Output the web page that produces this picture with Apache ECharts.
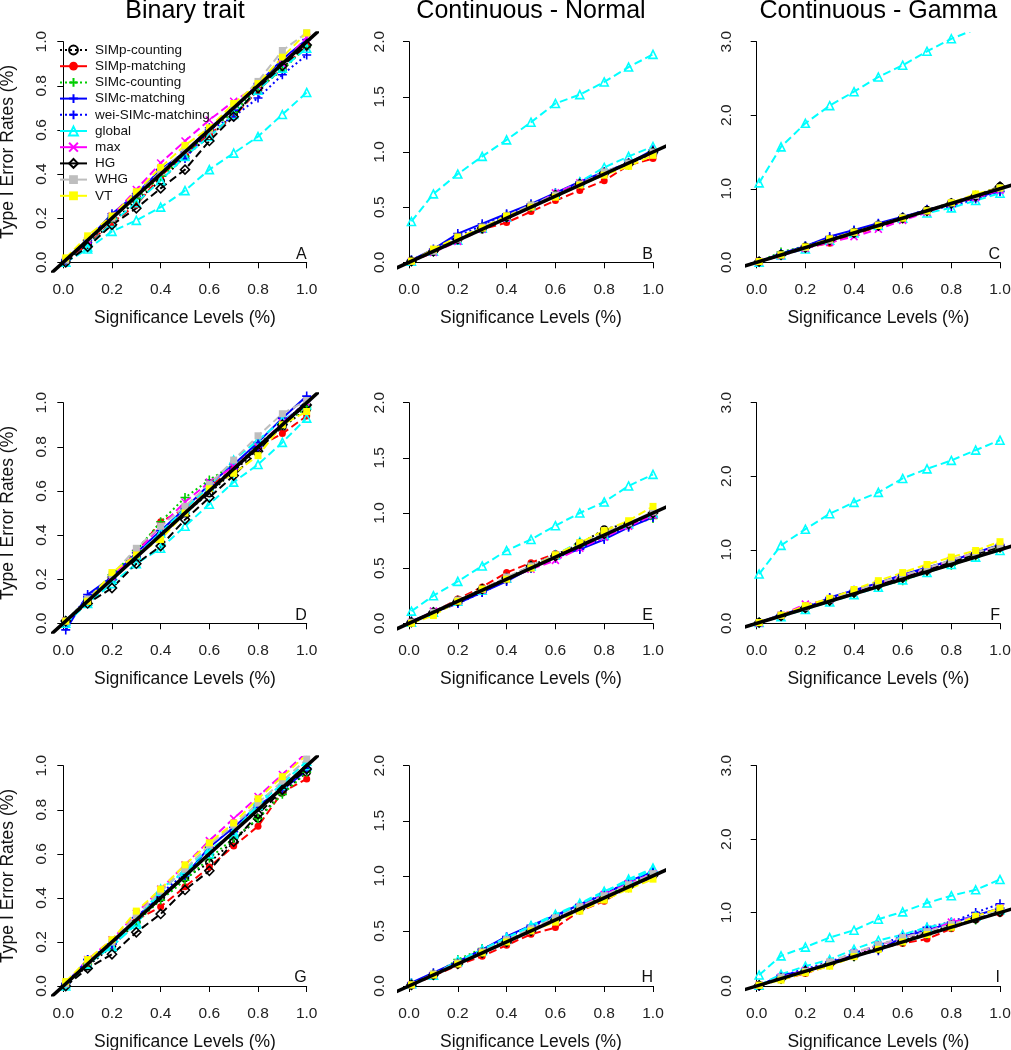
<!DOCTYPE html>
<html><head><meta charset="utf-8">
<script src="https://cdn.jsdelivr.net/npm/echarts@6/dist/echarts.min.js"></script>
<style>html,body{margin:0;padding:0;background:#fff}#c{width:1011px;height:1050px}</style>
</head><body><div id="c"></div><script>
// ---------------- data ----------------
const sigLevels = [0.01, 0.1, 0.2, 0.3, 0.4, 0.5, 0.6, 0.7, 0.8, 0.9, 1.0];
const colTitles = ['Binary trait', 'Continuous - Normal', 'Continuous - Gamma'];
const panelLetters = ['A', 'B', 'C', 'D', 'E', 'F', 'G', 'H', 'I'];
const xTicks = [0, 0.2, 0.4, 0.6, 0.8, 1.0];
const yTicksBinary = [0, 0.2, 0.4, 0.6, 0.8, 1.0];
const yTicksNormal = [0, 0.5, 1.0, 1.5, 2.0];
const yTicksGamma = [0, 1.0, 2.0, 3.0];
const refLineX = [-1, 5]; // y = x reference line

// rows: panels A..I, columns: significance levels
const simpCounting = [
  [0.01,0.08,0.18,0.28,0.37,0.48,0.57,0.67,0.78,0.88,0.98],
  [0.01,0.10,0.20,0.30,0.40,0.50,0.60,0.70,0.80,0.90,0.98],
  [0.01,0.11,0.21,0.31,0.41,0.51,0.61,0.71,0.81,0.91,1.03],
  [0.01,0.10,0.20,0.30,0.40,0.50,0.59,0.69,0.79,0.89,0.97],
  [0.01,0.10,0.21,0.31,0.41,0.52,0.62,0.72,0.85,0.91,1.00],
  [0.01,0.10,0.21,0.32,0.42,0.53,0.63,0.73,0.83,0.93,1.03],
  [0.01,0.09,0.18,0.29,0.40,0.49,0.56,0.66,0.76,0.88,0.97],
  [0.01,0.10,0.21,0.31,0.41,0.51,0.61,0.71,0.81,0.91,1.01],
  [0.01,0.10,0.21,0.31,0.42,0.52,0.62,0.73,0.82,0.91,1.00]
];
const simpMatching = [
  [0.01,0.08,0.18,0.26,0.39,0.49,0.58,0.66,0.78,0.88,0.98],
  [0.01,0.09,0.20,0.30,0.36,0.46,0.56,0.65,0.74,0.88,0.94],
  [0.01,0.10,0.20,0.26,0.38,0.48,0.58,0.70,0.79,0.87,0.98],
  [0.01,0.10,0.21,0.32,0.46,0.52,0.62,0.70,0.80,0.86,0.94],
  [0.01,0.10,0.22,0.33,0.46,0.55,0.63,0.70,0.80,0.90,1.00],
  [0.01,0.11,0.23,0.33,0.44,0.53,0.64,0.73,0.84,0.95,1.05],
  [0.01,0.10,0.19,0.30,0.36,0.45,0.54,0.635,0.725,0.88,0.94],
  [0.01,0.09,0.19,0.27,0.37,0.47,0.53,0.68,0.77,0.90,0.99],
  [0.01,0.09,0.17,0.28,0.40,0.51,0.58,0.64,0.78,0.91,0.99]
];
const simcCounting = [
  [0.01,0.09,0.20,0.29,0.39,0.48,0.60,0.68,0.79,0.87,0.98],
  [0.01,0.10,0.21,0.31,0.41,0.50,0.61,0.71,0.80,0.90,0.99],
  [0.01,0.14,0.22,0.31,0.40,0.50,0.60,0.70,0.80,0.90,1.00],
  [0.01,0.11,0.22,0.33,0.46,0.57,0.65,0.72,0.81,0.90,0.98],
  [0.01,0.10,0.20,0.30,0.40,0.50,0.60,0.70,0.80,0.89,0.95],
  [0.01,0.10,0.20,0.30,0.40,0.50,0.58,0.70,0.79,0.90,1.02],
  [0.01,0.10,0.19,0.29,0.39,0.48,0.58,0.67,0.76,0.87,0.97],
  [0.01,0.10,0.24,0.34,0.42,0.51,0.60,0.71,0.81,0.92,1.02],
  [0.01,0.11,0.20,0.30,0.40,0.50,0.60,0.70,0.80,0.90,1.00]
];
const simcMatching = [
  [0.01,0.10,0.22,0.31,0.42,0.50,0.61,0.69,0.81,0.92,1.01],
  [0.02,0.12,0.26,0.35,0.44,0.53,0.63,0.73,0.82,0.90,1.02],
  [0.01,0.12,0.22,0.35,0.44,0.53,0.62,0.71,0.80,0.88,0.97],
  [-0.03,0.13,0.21,0.32,0.42,0.52,0.63,0.72,0.82,0.93,1.03],
  [0.02,0.10,0.18,0.28,0.38,0.50,0.60,0.67,0.76,0.87,0.96],
  [0.01,0.12,0.21,0.35,0.45,0.55,0.66,0.76,0.85,0.96,1.07],
  [0.01,0.12,0.19,0.31,0.41,0.50,0.63,0.72,0.82,0.89,0.98],
  [0.03,0.12,0.22,0.33,0.45,0.55,0.64,0.74,0.83,0.95,1.04],
  [0.00,0.15,0.20,0.32,0.42,0.48,0.67,0.76,0.86,0.96,1.06]
];
const weiSimcMatching = [
  [0.01,0.09,0.21,0.30,0.42,0.47,0.60,0.66,0.745,0.85,0.94],
  [0.02,0.11,0.24,0.33,0.43,0.52,0.62,0.72,0.80,0.90,0.99],
  [0.01,0.11,0.22,0.33,0.43,0.52,0.61,0.72,0.76,0.86,0.96],
  [0.00,0.12,0.20,0.30,0.40,0.50,0.61,0.70,0.80,0.90,1.01],
  [0.01,0.10,0.18,0.28,0.39,0.51,0.59,0.68,0.77,0.88,0.97],
  [0.01,0.11,0.22,0.34,0.44,0.55,0.64,0.75,0.86,0.96,1.06],
  [0.01,0.12,0.19,0.31,0.42,0.51,0.60,0.70,0.81,0.90,0.99],
  [0.02,0.11,0.22,0.33,0.44,0.54,0.63,0.74,0.84,0.94,1.03],
  [0.00,0.14,0.23,0.33,0.45,0.55,0.68,0.80,0.87,1.00,1.12]
];
const globalTest = [
  [0.00,0.06,0.14,0.19,0.25,0.325,0.42,0.495,0.57,0.67,0.77],
  [0.37,0.62,0.80,0.96,1.11,1.27,1.44,1.52,1.635,1.77,1.885],
  [1.08,1.57,1.89,2.13,2.32,2.52,2.68,2.87,3.04,3.17,3.30],
  [0.00,0.09,0.18,0.27,0.34,0.44,0.54,0.64,0.72,0.82,0.93],
  [0.11,0.25,0.38,0.52,0.66,0.76,0.885,1.00,1.10,1.245,1.35],
  [0.67,1.06,1.28,1.49,1.645,1.78,1.97,2.10,2.215,2.355,2.49],
  [0.00,0.10,0.18,0.29,0.44,0.52,0.60,0.70,0.82,0.92,1.02],
  [0.02,0.10,0.23,0.33,0.44,0.54,0.64,0.74,0.85,0.97,1.07],
  [0.15,0.41,0.53,0.66,0.76,0.91,1.01,1.13,1.23,1.31,1.45]
];
const globalSecond = [
  [0.00,0.07,0.18,0.27,0.37,0.48,0.57,0.67,0.78,0.88,0.97],
  [0.01,0.10,0.20,0.31,0.41,0.51,0.62,0.73,0.86,0.96,1.05],
  [0.00,0.10,0.18,0.30,0.40,0.50,0.60,0.67,0.74,0.84,0.94],
  [0.01,0.10,0.20,0.31,0.41,0.52,0.62,0.74,0.83,0.92,0.99],
  [0.01,0.10,0.20,0.30,0.41,0.52,0.62,0.74,0.80,0.90,1.00],
  [0.01,0.09,0.19,0.29,0.39,0.49,0.59,0.69,0.80,0.90,0.99],
  [0.01,0.10,0.18,0.28,0.43,0.53,0.62,0.69,0.84,0.91,1.00],
  [0.02,0.10,0.22,0.32,0.43,0.55,0.65,0.75,0.86,0.95,1.06],
  [0.01,0.16,0.27,0.36,0.50,0.62,0.70,0.80,0.86,0.95,1.04]
];
const maxTest = [
  [0.01,0.10,0.21,0.33,0.45,0.55,0.645,0.73,0.80,0.90,1.02],
  [0.01,0.09,0.19,0.30,0.40,0.50,0.63,0.72,0.80,0.90,0.99],
  [0.01,0.09,0.19,0.27,0.35,0.45,0.57,0.68,0.80,0.88,0.98],
  [0.01,0.10,0.21,0.32,0.44,0.55,0.64,0.71,0.80,0.91,1.00],
  [0.01,0.11,0.20,0.30,0.40,0.49,0.57,0.68,0.78,0.88,0.98],
  [0.00,0.11,0.26,0.32,0.43,0.54,0.65,0.73,0.86,0.96,1.04],
  [0.01,0.12,0.21,0.33,0.44,0.55,0.66,0.76,0.86,0.96,1.06],
  [0.01,0.10,0.20,0.31,0.41,0.50,0.60,0.72,0.83,0.93,1.02],
  [0.01,0.12,0.21,0.31,0.45,0.55,0.66,0.74,0.87,0.94,1.06]
];
const hgTest = [
  [0.00,0.07,0.17,0.245,0.335,0.42,0.55,0.66,0.79,0.89,0.985],
  [0.01,0.10,0.21,0.31,0.41,0.51,0.61,0.71,0.81,0.89,1.00],
  [0.01,0.10,0.20,0.30,0.40,0.50,0.60,0.70,0.80,0.90,1.03],
  [0.01,0.09,0.16,0.27,0.35,0.47,0.57,0.67,0.78,0.90,0.99],
  [0.01,0.10,0.20,0.31,0.41,0.52,0.61,0.72,0.81,0.90,1.00],
  [0.01,0.10,0.21,0.31,0.42,0.52,0.62,0.72,0.83,0.94,1.04],
  [0.00,0.08,0.144,0.244,0.327,0.436,0.523,0.655,0.78,0.89,0.985],
  [0.01,0.10,0.20,0.30,0.40,0.50,0.60,0.70,0.80,0.90,1.00],
  [0.01,0.10,0.20,0.30,0.41,0.51,0.61,0.72,0.82,0.92,1.01]
];
const whgTest = [
  [0.01,0.11,0.20,0.31,0.41,0.51,0.60,0.71,0.82,0.96,1.04],
  [0.01,0.10,0.21,0.32,0.42,0.52,0.61,0.71,0.82,0.90,1.00],
  [0.01,0.10,0.20,0.30,0.41,0.51,0.61,0.70,0.81,0.91,1.01],
  [0.01,0.11,0.22,0.34,0.44,0.53,0.63,0.74,0.85,0.95,1.01],
  [0.01,0.10,0.21,0.31,0.42,0.52,0.62,0.73,0.82,0.91,1.01],
  [0.01,0.11,0.22,0.33,0.44,0.55,0.65,0.75,0.86,0.96,1.06],
  [0.01,0.11,0.20,0.32,0.43,0.53,0.64,0.73,0.83,0.93,1.03],
  [0.01,0.11,0.21,0.31,0.42,0.52,0.62,0.72,0.82,0.92,1.02],
  [0.01,0.12,0.20,0.33,0.45,0.56,0.66,0.74,0.84,0.94,1.04]
];
const vtTest = [
  [0.02,0.12,0.21,0.32,0.43,0.53,0.61,0.72,0.81,0.93,1.04],
  [0.01,0.12,0.23,0.31,0.42,0.50,0.59,0.70,0.79,0.87,0.97],
  [0.01,0.10,0.21,0.32,0.41,0.50,0.60,0.70,0.81,0.93,1.01],
  [0.01,0.10,0.23,0.31,0.38,0.50,0.61,0.68,0.76,0.90,0.96],
  [0.00,0.07,0.20,0.31,0.40,0.50,0.62,0.73,0.84,0.93,1.06],
  [0.01,0.11,0.24,0.34,0.46,0.58,0.69,0.80,0.90,0.99,1.11],
  [0.02,0.12,0.21,0.34,0.44,0.55,0.65,0.74,0.85,0.95,1.05],
  [0.01,0.10,0.20,0.30,0.40,0.50,0.58,0.68,0.78,0.88,0.97],
  [0.01,0.08,0.18,0.27,0.40,0.50,0.60,0.70,0.80,0.95,1.06]
];

// ---------------- styles ----------------
const P_PLUS = 'path://M-1,0L1,0M0,-1L0,1';
const P_X = 'path://M-1,-1L1,1M-1,1L1,-1';
const P_DIAMOND = 'path://M0,-1L1,0L0,1L-1,0Z';
const DOT = [2, 3], DASH = [8, 4];
const methods = [
  {name:'SIMp-counting', values:simpCounting, color:'#000000', symbol:'circle', open:true, size:7, dash:DOT, legendDash:DOT},
  {name:'SIMp-matching', values:simpMatching, color:'#ff0000', symbol:'circle', open:false, size:7, dash:DASH, legendDash:'solid'},
  {name:'SIMc-counting', values:simcCounting, color:'#00cd00', symbol:P_PLUS, open:true, size:9, dash:DOT, legendDash:DOT},
  {name:'SIMc-matching', values:simcMatching, color:'#0000ff', symbol:P_PLUS, open:true, size:9, dash:'solid', legendDash:'solid'},
  {name:'wei-SIMc-matching', values:weiSimcMatching, color:'#0000ff', symbol:P_PLUS, open:true, size:9, dash:DOT, legendDash:DOT},
  {name:'global', values:globalSecond, color:'#00ffff', symbol:'triangle', open:true, size:8, dash:DASH, legendDash:'solid', noLegend:true},
  {name:'global', values:globalTest, color:'#00ffff', symbol:'triangle', open:true, size:8, dash:DASH, legendDash:'solid'},
  {name:'max', values:maxTest, color:'#ff00ff', symbol:P_X, open:true, size:7, dash:DASH, legendDash:'solid'},
  {name:'HG', values:hgTest, color:'#000000', symbol:P_DIAMOND, open:true, size:9, dash:DASH, legendDash:'solid'},
  {name:'WHG', values:whgTest, color:'#bebebe', symbol:'rect', open:false, size:7, dash:DASH, legendDash:'solid'},
  {name:'VT', values:vtTest, color:'#ffff00', symbol:'rect', open:false, size:7, dash:DASH, legendDash:'solid'}
];
const legendOrder = ['SIMp-counting','SIMp-matching','SIMc-counting','SIMc-matching','wei-SIMc-matching','global','max','HG','WHG','VT'];

// ---------------- layout ----------------
const colX0 = [63.3, 409, 756.7];
const colW = [243.4, 244, 243.3];
const rowY0 = [262.3, 623.3, 986];
const rowH = [220.6, 220.6, 220.3];
const yMaxes = [1, 2, 3];
const yTickSets = [yTicksBinary, yTicksNormal, yTicksGamma];
const EXT = 0.04;
const FONT = "'Liberation Sans', Arial, sans-serif";

const grids = [], xAxes = [], yAxes = [], series = [], graphics = [];

for (let k = 0; k < 9; k++) {
  const r = Math.floor(k / 3), c = k % 3;
  const w = colW[c], h = rowH[r];
  const innerLeft = colX0[c], innerTop = rowY0[r] - h;
  const ymax = yMaxes[c];
  const ticks = yTickSets[c];
  grids.push({left: innerLeft - EXT * w, top: innerTop - EXT * h, width: w * (1 + 2 * EXT), height: h * (1 + 2 * EXT), containLabel: false, outerBoundsMode: 'none', show: false});
  grids.push({left: innerLeft, top: innerTop, width: w, height: h, containLabel: false, outerBoundsMode: 'none', show: false});
  const gOuter = 2 * k, gInner = 2 * k + 1;
  xAxes.push({type: 'value', gridIndex: gOuter, min: -EXT, max: 1 + EXT, show: false});
  yAxes.push({type: 'value', gridIndex: gOuter, min: -EXT * ymax, max: (1 + EXT) * ymax, show: false});
  xAxes.push({
    type: 'value', gridIndex: gInner, min: 0, max: 1, interval: 0.2, position: 'bottom', offset: EXT * h,
    axisLine: {show: true, lineStyle: {color: '#000', width: 1}},
    axisTick: {show: true, length: 6, lineStyle: {color: '#000', width: 1}},
    axisLabel: {show: true, margin: 11, fontSize: 15.5, color: '#222', fontFamily: FONT,
      formatter: v => v.toFixed(1), showMinLabel: true, showMaxLabel: true, hideOverlap: false},
    splitLine: {show: false},
    name: 'Significance Levels (%)', nameLocation: 'middle', nameGap: 38,
    nameTextStyle: {fontSize: 17.5, color: '#111', fontFamily: FONT}
  });
  yAxes.push({
    type: 'value', gridIndex: gInner, min: 0, max: ymax, interval: ticks[1] - ticks[0], position: 'left', offset: EXT * w,
    axisLine: {show: true, lineStyle: {color: '#000', width: 1}},
    axisTick: {show: true, length: 6, lineStyle: {color: '#000', width: 1}},
    axisLabel: {show: true, rotate: 90, margin: c === 0 ? 4 : 12, fontSize: 15.5, color: '#222', fontFamily: FONT,
      formatter: v => v.toFixed(1), showMinLabel: true, showMaxLabel: true, hideOverlap: false},
    splitLine: {show: false},
    name: c === 0 ? 'Type I Error Rates (%)' : '', nameLocation: 'middle', nameGap: 36, nameRotate: 90,
    nameTextStyle: {fontSize: 17.5, color: '#111', fontFamily: FONT}
  });
  methods.forEach((m) => {
    series.push({
      type: 'line', name: m.name, xAxisIndex: gOuter, yAxisIndex: gOuter,
      data: sigLevels.map((x, i) => [x, m.values[k][i]]),
      symbol: m.symbol, symbolSize: m.size, showSymbol: true, symbolKeepAspect: true,
      lineStyle: {color: m.color, width: 2, type: m.dash},
      itemStyle: {color: m.open ? 'rgba(255,255,255,0)' : m.color, borderColor: m.color, borderWidth: m.open ? 1.6 : 0},
      emphasis: {disabled: true}, clip: true, silent: true, z: 2
    });
  });
  series.push({
    type: 'line', name: 'ref', xAxisIndex: gOuter, yAxisIndex: gOuter,
    data: refLineX.map(x => [x, x]), symbol: 'none', clip: true, silent: true,
    lineStyle: {color: '#000', width: 3.5, type: 'solid'}, emphasis: {disabled: true}, z: 5
  });
  graphics.push({type: 'text', x: colX0[c] + w, y: rowY0[r] - 8, silent: true,
    style: {text: panelLetters[k], fontSize: 16, fill: '#111', align: 'right', verticalAlign: 'middle', fontFamily: FONT}});
}
colTitles.forEach((t, c) => {
  graphics.push({type: 'text', x: colX0[c] + colW[c] / 2, y: 11, silent: true,
    style: {text: t, fontSize: 25, fill: '#000', align: 'center', verticalAlign: 'middle', fontFamily: FONT}});
});

const chart = echarts.init(document.getElementById('c'), null, {renderer: 'canvas'});
chart.setOption({
  animation: false,
  backgroundColor: '#fff',
  textStyle: {fontFamily: FONT},
  grid: grids, xAxis: xAxes, yAxis: yAxes, series: series,
  legend: {
    show: true, orient: 'vertical', left: 54, top: 38, itemWidth: 27, itemHeight: 11, itemGap: 2.2,
    selectedMode: false,
    textStyle: {fontSize: 13.5, color: '#111', fontFamily: FONT, lineHeight: 14, padding: [0, 0, 0, 3]},
    data: legendOrder.map(n => {
      const m = methods.find(mm => mm.name === n && !mm.noLegend);
      return {name: n, lineStyle: {type: m.legendDash, width: 2}};
    })
  },
  graphic: graphics
});
</script></body></html>
